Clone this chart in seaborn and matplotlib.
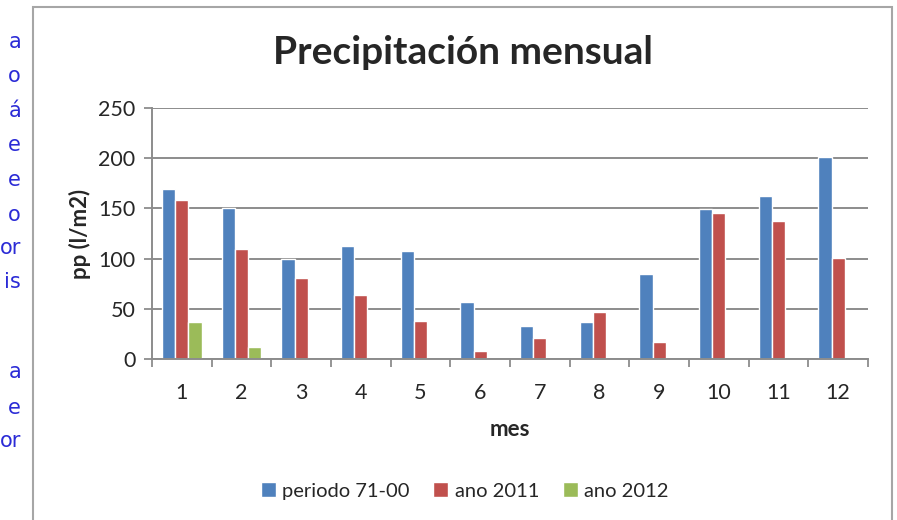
import numpy as np
import pandas as pd
import seaborn as sns
import matplotlib.pyplot as plt
from matplotlib.patches import Rectangle

# monthly precipitation (l/m2)
meses = [str(m) for m in range(1, 13)]
periodo_71_00 = [169, 150, 100, 113, 108, 57, 33, 37, 85, 149, 162, 201]
ano_2011 = [158, 110, 81, 64, 38, 8, 21, 47, 17, 145, 137, 101]
ano_2012 = [37, 12, np.nan, np.nan, np.nan, np.nan, np.nan, np.nan, np.nan, np.nan, np.nan, np.nan]
series = ["periodo 71-00", "ano 2011", "ano 2012"]
colores = ["#4F81BD", "#C0504D", "#9BBB59"]

# side text cut off from the page
margen = ["a", "o", "á", "e", "e", "o", "or", "is", "", "a", "e", "or"]
margen_y = [42, 76, 111, 145, 180, 215, 248, 282, 316, 372, 408, 441]

df = pd.DataFrame({
    "mes": meses * 3,
    "serie": [s for s in series for _ in meses],
    "pp": periodo_71_00 + ano_2011 + ano_2012,
})

sns.set_style("white")
plt.rcParams["font.family"] = ["Lato", "DejaVu Sans"]

fig = plt.figure(figsize=(8.97, 5.20), dpi=100)
ax = fig.add_axes([152 / 897, 1 - 359 / 520, 716 / 897, 251 / 520])

sns.barplot(data=df, x="mes", y="pp", hue="serie", order=meses, hue_order=series,
            palette=colores, width=0.66, saturation=1, errorbar=None, ax=ax)

ax.set_xlim(-0.5, 11.5)
ax.set_ylim(0, 250)
ax.set_yticks(range(0, 251, 50))
ax.yaxis.grid(True, color="#8c8c8c", linewidth=1.4)
ax.set_axisbelow(True)
for s in ["top", "right"]:
    ax.spines[s].set_visible(False)
for s in ["left", "bottom"]:
    ax.spines[s].set_color("#8c8c8c")
    ax.spines[s].set_linewidth(1.4)

ax.set_xticks(np.arange(-0.5, 12, 1), minor=True)
ax.tick_params(axis="x", which="major", length=0, labelsize=15.5, pad=17)
ax.tick_params(axis="x", which="minor", length=6, width=1.3, color="#8c8c8c", direction="out", bottom=True)
ax.tick_params(axis="y", length=6, width=1.3, color="#8c8c8c", direction="out", labelsize=15.5, pad=6, left=True)

ax.set_xlabel("mes", fontsize=16, fontweight="bold", labelpad=12)
ax.set_ylabel("pp (l/m2)", fontsize=16, fontweight="bold", labelpad=5)

fig.text(463 / 897, 1 - 53 / 520, "Precipitación mensual", ha="center", va="center",
         fontsize=28, fontweight="bold")

handles, labels = ax.get_legend_handles_labels()
ax.legend_.remove()
fig.legend(handles, labels, loc="center", bbox_to_anchor=(0.518, 1 - 491 / 520), ncol=3,
           frameon=False, fontsize=14.5, handlelength=0.75, handleheight=0.75,
           handletextpad=0.3, columnspacing=1.2)

# chart border and the cut-off page text
fig.patches.append(Rectangle((33 / 897, -0.05), 859 / 897, 1.05 - 7 / 520, transform=fig.transFigure,
                             fill=False, edgecolor="#a6a6a6", linewidth=1.5))
for t, y in zip(margen, margen_y):
    fig.text(21 / 897, 1 - y / 520, t, ha="right", va="center", fontsize=15,
             color="#2b2bd6", family="DejaVu Sans")

fig.savefig("out.png", dpi=100)
